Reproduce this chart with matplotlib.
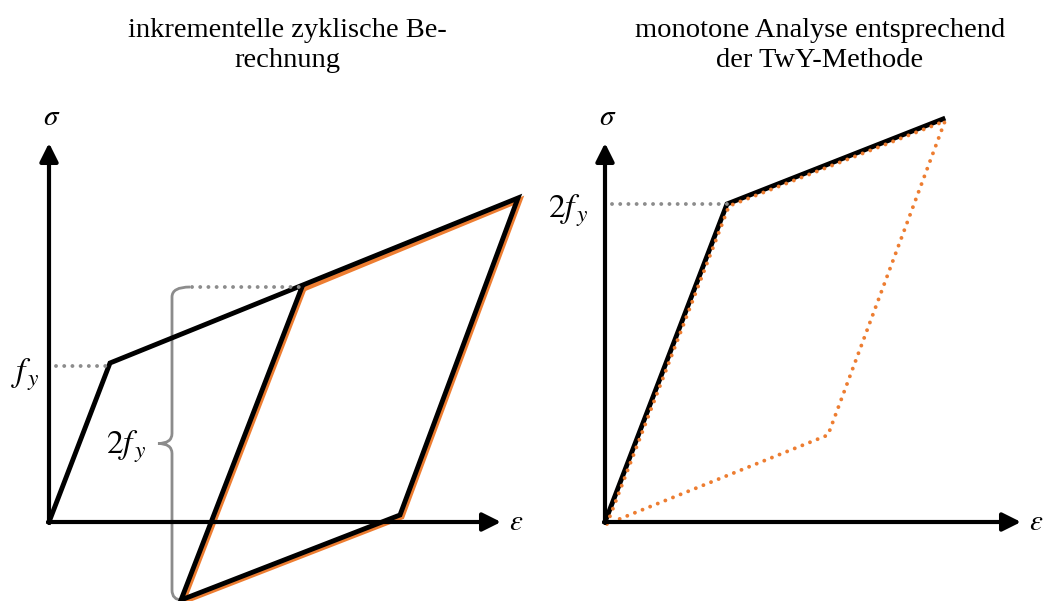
import matplotlib.pyplot as plt
from matplotlib.path import Path
from matplotlib.patches import PathPatch
from matplotlib.transforms import offset_copy

plt.rcParams['mathtext.fontset'] = 'stix'

# left panel: incremental cyclic loop (strain, stress in drawing units)
cyc_eps = [0, 61, 469, 351, 132, 253]
cyc_sig = [0, 159, 324, 7, -78, 235]
# closed loop that is repeated (orange)
loop_eps = [253, 469, 351, 132, 253]
loop_sig = [235, 324, 7, -78, 235]
fy = 159

# right panel: monotone analysis by TwY method
mono_eps = [0, 122, 338]
mono_sig = [0, 318, 403]
twy_eps = [0, 122, 338, 221, 0]
twy_sig = [0, 318, 403, 89, 0]

titles = [['inkrementelle zyklische Be-', 'rechnung'],
          ['monotone Analyse entsprechend', 'der TwY-Methode']]

orange = '#ED7D31'
gray = '#8c8c8c'
dots = (0, (0.01, 2.1))

fig = plt.figure(figsize=(10.5, 6.01), dpi=100)
axl = fig.add_axes([0, 0, 0.5, 1])
axr = fig.add_axes([0.5, 0, 0.5, 1])
axl.set_xlim(-49, 476)
axr.set_xlim(-80, 445)
for ax in (axl, axr):
    ax.set_ylim(-79, 522)
    ax.axis('off')


def draw_axes(ax, xend, yend):
    arrow = dict(arrowstyle='-|>,head_length=1.1,head_width=0.55',
                 lw=3, color='black', shrinkA=0, shrinkB=0)
    ax.annotate('', xy=(xend, 0), xytext=(-1, 0), arrowprops=arrow)
    ax.annotate('', xy=(0, yend), xytext=(0, -1), arrowprops=arrow)
    ax.text(xend + 15, 0, r'$\varepsilon$', fontsize=21, va='center', ha='center')
    ax.text(3, yend + 26, r'$\sigma$', fontsize=21, va='center', ha='center')


# left
draw_axes(axl, 452, 379)
off = offset_copy(axl.transData, fig=fig, x=2, y=-2, units='dots')
axl.plot(loop_eps, loop_sig, color=orange, lw=3.5, transform=off,
         solid_joinstyle='miter')
axl.plot(cyc_eps, cyc_sig, color='black', lw=3.5, solid_joinstyle='miter')
axl.plot([7, cyc_eps[1]], [fy - 3, fy - 3], color=gray, lw=2.8, ls=dots,
         dash_capstyle='round')
axl.plot([143, cyc_eps[5]], [cyc_sig[5], cyc_sig[5]], color=gray, lw=2.8,
         ls=dots, dash_capstyle='round')
axl.text(-24, fy - 12, r'$f_{\,y}$', fontsize=24, ha='center', va='center')
axl.text(77, 75, r'$2f_{\,y}$', fontsize=24, ha='center', va='center')

# curly brace spanning 2fy
top, bot = cyc_sig[5], cyc_sig[4]
mid = (top + bot) / 2
xv, r = 123, 10
verts = [(141, top), (xv, top), (xv, top - r),
         (xv, mid + r), (xv, mid), (xv - 14, mid),
         (xv, mid), (xv, mid - r),
         (xv, bot + r), (xv, bot), (xv + 10, bot)]
codes = [Path.MOVETO, Path.CURVE3, Path.CURVE3,
         Path.LINETO, Path.CURVE3, Path.CURVE3,
         Path.CURVE3, Path.CURVE3,
         Path.LINETO, Path.CURVE3, Path.CURVE3]
axl.add_patch(PathPatch(Path(verts, codes), fill=False, ec=gray, lw=2))

# right
draw_axes(axr, 416, 379)
axr.plot(mono_eps, mono_sig, color='black', lw=3.5, solid_joinstyle='miter')
offr = offset_copy(axr.transData, fig=fig, x=2, y=-2, units='dots')
axr.plot(twy_eps, twy_sig, color=orange, lw=2.8, ls=dots,
         dash_capstyle='round', transform=offr)
axr.plot([7, mono_eps[1]], [mono_sig[1], mono_sig[1]], color=gray, lw=2.8,
         ls=dots, dash_capstyle='round')
axr.text(-37, mono_sig[1] - 7, r'$2f_{\,y}$', fontsize=24, ha='center', va='center')

for xc, lines in zip([287, 820], titles):
    for yb, line in zip([37, 67], lines):
        fig.text(xc / 1050, 1 - yb / 601, line, ha='center', va='baseline',
                 fontsize=20.5, family='Liberation Serif')

fig.savefig('out.png', dpi=100)
